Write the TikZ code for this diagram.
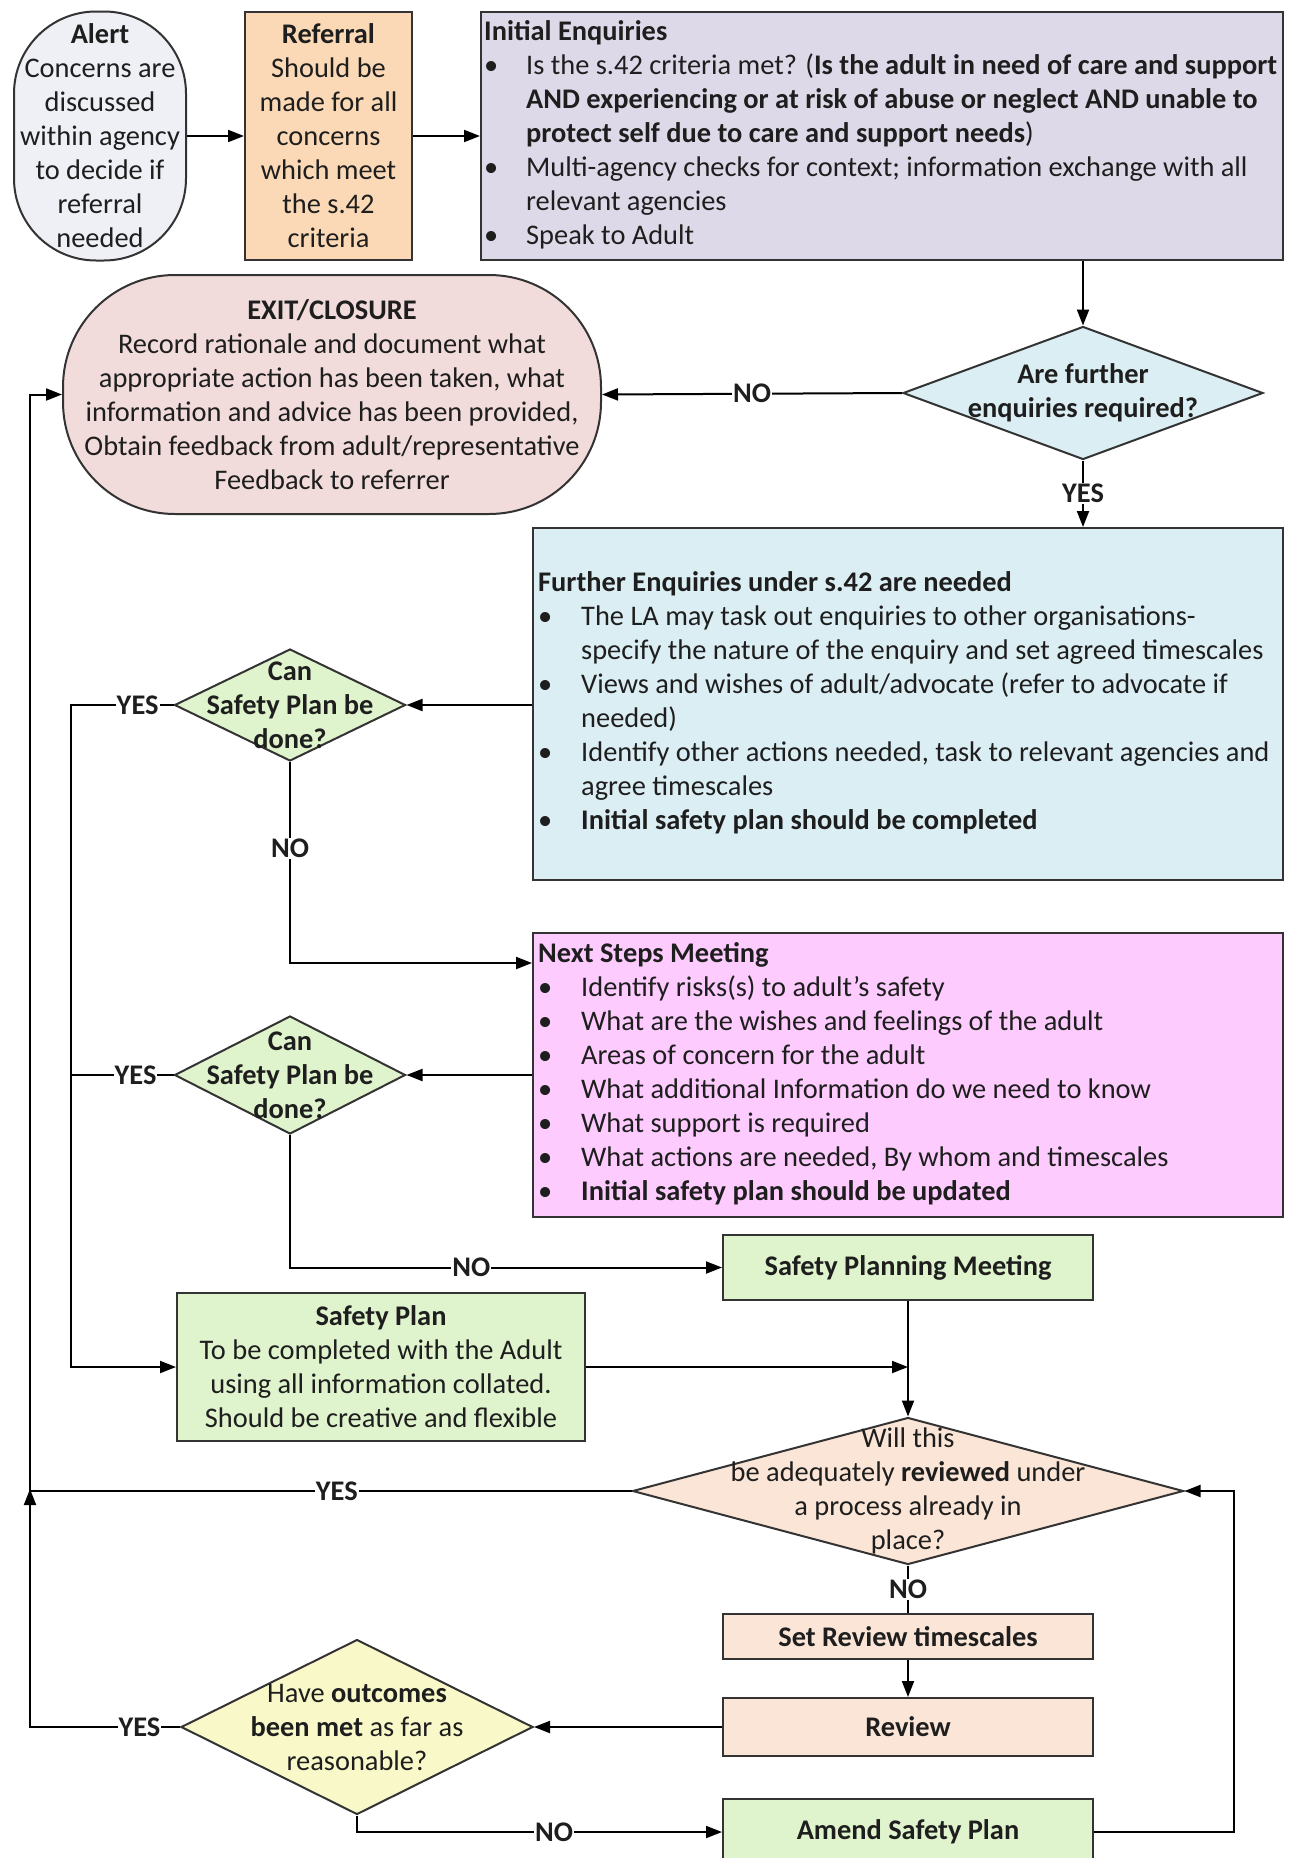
\documentclass[tikz,border=0pt]{standalone}
\usepackage{fontspec}
\setmainfont{Carlito}
\usetikzlibrary{arrows.meta,shapes.geometric}
\newcommand\fs{\fontsize{28.4}{34}\selectfont}
\definecolor{alertc}{HTML}{EEF0F5}
\definecolor{refc}{HTML}{FBD9B6}
\definecolor{iec}{HTML}{DDD9E8}
\definecolor{exitc}{HTML}{F2DCDB}
\definecolor{bluec}{HTML}{DBEEF4}
\definecolor{greenc}{HTML}{DFF3CD}
\definecolor{pinkc}{HTML}{FDCBFD}
\definecolor{peachc}{HTML}{FBE5D6}
\definecolor{yellc}{HTML}{F8F8C8}
\definecolor{inkc}{HTML}{1E1E1E}
\begin{document}
\begin{tikzpicture}[x=1pt,y=-1pt,
  box/.style={draw=black!80, line width=2pt, inner sep=0pt},
  txt/.style={align=center, inner sep=0pt, font=\fs, text=inkc},
  conn/.style={line width=2pt, -{Triangle[length=16pt,width=12pt]}},
  plain/.style={line width=2pt},
  lbl/.style={fill=white, font=\fs\bfseries, inner sep=1pt, text=inkc}]
\useasboundingbox (0,0) rectangle (1293,1858);
% ---------- top row
\node[box, fill=alertc, rounded corners=82pt, minimum width=172pt, minimum height=249pt] (alert) at (100,136) {};
\node[txt] (alertt) at (alert.center) {\textbf{Alert}\\Concerns are\\discussed\\within agency\\to decide if\\referral\\needed};
\node[box, fill=refc, minimum width=167pt, minimum height=248pt] (ref) at (328.5,136) {};
\node[txt] (reft) at (ref.center) {\textbf{Referral}\\Should be\\made for all\\concerns\\which meet\\the s.42\\criteria};
\node[box, fill=iec, minimum width=802pt, minimum height=248pt] (ie) at (882,136) {};
\node[anchor=west, inner sep=0pt, font=\fs, text=inkc] (iet) at ([xshift=4pt]ie.west) {%
\begin{tabular}{@{}p{42pt}@{}l@{}}
\multicolumn{2}{@{}l@{}}{\textbf{Initial Enquiries}}\\
\textbullet & Is the s.42 criteria met? (\textbf{Is the adult in need of care and support}\\
 & \textbf{AND experiencing or at risk of abuse or neglect AND unable to}\\
 & \textbf{protect self due to care and support needs})\\
\textbullet & Multi-agency checks for context; information exchange with all\\
 & relevant agencies\\
\textbullet & Speak to Adult
\end{tabular}};
% ---------- decision 1 and exit
\node[box, diamond, fill=bluec, minimum width=360pt, minimum height=133pt] (d1) at (1083,393) {};
\node[txt, font=\fs\bfseries] (d1t) at (d1.center) {Are further\\enquiries required?};
\node[box, fill=exitc, rounded corners=112pt, minimum width=538pt, minimum height=239pt] (exit) at (332,394.5) {};
\node[txt] (exitt) at (exit.center) {\textbf{EXIT/CLOSURE}\\Record rationale and document what\\appropriate action has been taken, what\\information and advice has been provided,\\Obtain feedback from adult/representative\\Feedback to referrer};
% ---------- further enquiries
\node[box, fill=bluec, minimum width=750pt, minimum height=352pt] (fe) at (908,704) {};
\node[anchor=west, inner sep=0pt, font=\fs, text=inkc] (fet) at ([xshift=6pt]fe.west) {%
\begin{tabular}{@{}p{43pt}@{}l@{}}
\multicolumn{2}{@{}l@{}}{\textbf{Further Enquiries under s.42 are needed}}\\
\textbullet & The LA may task out enquiries to other organisations-\\
 & specify the nature of the enquiry and set agreed timescales\\
\textbullet & Views and wishes of adult/advocate (refer to advocate if\\
 & needed)\\
\textbullet & Identify other actions needed, task to relevant agencies and\\
 & agree timescales\\
\textbullet & \textbf{Initial safety plan should be completed}
\end{tabular}};
\node[box, diamond, fill=greenc, minimum width=231pt, minimum height=112pt] (c1) at (290,705) {};
\node[txt, font=\fs\bfseries] (c1t) at (c1.center) {Can\\Safety Plan be\\done?};
% ---------- next steps
\node[box, fill=pinkc, minimum width=750pt, minimum height=284pt] (ne) at (908,1075) {};
\node[anchor=west, inner sep=0pt, font=\fs, text=inkc] (net) at ([xshift=6pt]ne.west) {%
\begin{tabular}{@{}p{43pt}@{}l@{}}
\multicolumn{2}{@{}l@{}}{\textbf{Next Steps Meeting}}\\
\textbullet & Identify risks(s) to adult’s safety\\
\textbullet & What are the wishes and feelings of the adult\\
\textbullet & Areas of concern for the adult\\
\textbullet & What additional Information do we need to know\\
\textbullet & What support is required\\
\textbullet & What actions are needed, By whom and timescales\\
\textbullet & \textbf{Initial safety plan should be updated}
\end{tabular}};
\node[box, diamond, fill=greenc, minimum width=231pt, minimum height=118pt] (c2) at (290,1075) {};
\node[txt, font=\fs\bfseries] (c2t) at (c2.center) {Can\\Safety Plan be\\done?};
% ---------- safety planning
\node[box, fill=greenc, minimum width=370pt, minimum height=65pt] (spm) at (908,1267.5) {};
\node[txt, font=\fs\bfseries] (spmt) at (spm.center) {Safety Planning Meeting};
\node[box, fill=greenc, minimum width=408pt, minimum height=148pt] (sp) at (381,1367) {};
\node[txt] (spt) at (sp.center) {\textbf{Safety Plan}\\To be completed with the Adult\\using all information collated.\\Should be creative and flexible};
\node[box, diamond, fill=peachc, minimum width=551pt, minimum height=147pt] (d3) at (908,1491) {};
\node[txt] (d3t) at (d3.center) {Will this\\be adequately \textbf{reviewed} under\\a process already in\\place?};
% ---------- review loop
\node[box, fill=peachc, minimum width=370pt, minimum height=45pt] (srt) at (908,1636.5) {};
\node[txt, font=\fs\bfseries] (srtt) at (srt.center) {Set Review timescales};
\node[box, fill=peachc, minimum width=370pt, minimum height=58pt] (rev) at (908,1727) {};
\node[txt, font=\fs\bfseries] (revt) at (rev.center) {Review};
\node[box, diamond, fill=yellc, minimum width=352pt, minimum height=175pt] (out) at (357,1727) {};
\node[txt] (outt) at (out.center) {Have \textbf{outcomes}\\\textbf{been met} as far as\\reasonable?};
\node[box, fill=greenc, minimum width=370pt, minimum height=66pt] (am) at (908,1832) {};
\node[txt, font=\fs\bfseries] (amt) at (am.center) {Amend Safety Plan};
% ---------- helper coordinates
\coordinate (vx) at (71,0);
\coordinate (lx) at (30,0);
\coordinate (rx) at (1234,0);
\coordinate (ny) at (0,963);
% ---------- connectors
\draw[conn] (alert.east) -- (ref.west);
\draw[conn] (ref.east) -- (ie.west);
\draw[conn] (ie.south -| d1.north) -- (d1.north);
\draw[conn] (d1.west) -- node[lbl]{NO} (exit.east);
\draw[conn] (d1.south) -- node[lbl]{YES} (fe.north -| d1.south);
\draw[conn] (fe.west |- c1.east) -- (c1.east);
\draw[conn] (c1.west) -- node[lbl,pos=0.35]{YES} (c1.west -| vx) |- (sp.west);
\draw[conn] (c1.south) -- node[lbl,pos=0.43]{NO} (c1.south |- ny) -- (ne.west |- ny);
\draw[conn] (ne.west |- c2.east) -- (c2.east);
\draw[plain] (c2.west) -- node[lbl,pos=0.37]{YES} (c2.west -| vx);
\draw[conn] (c2.south) |- node[lbl,pos=0.71]{NO} (spm.west);
\draw[conn] (sp.east) -- (spm.south |- sp.east);
\draw[conn] (spm.south) -- (d3.north);
\draw[conn] (d3.west) -- node[lbl,pos=0.49]{YES} (d3.west -| lx) |- (exit.west);
\draw[plain] (d3.south) -- node[lbl]{NO} (srt.north);
\draw[conn] (srt.south) -- (rev.north);
\draw[conn] (rev.west) -- (out.east);
\draw[conn] (out.west) -- node[lbl,pos=0.27]{YES} (out.west -| lx) -- ([yshift=2pt]d3.west -| lx);
\draw[conn] (out.south) |- node[lbl,pos=0.77]{NO} (am.west);
\draw[conn] (am.east) -- (am.east -| rx) |- (d3.east);
\end{tikzpicture}
\end{document}
